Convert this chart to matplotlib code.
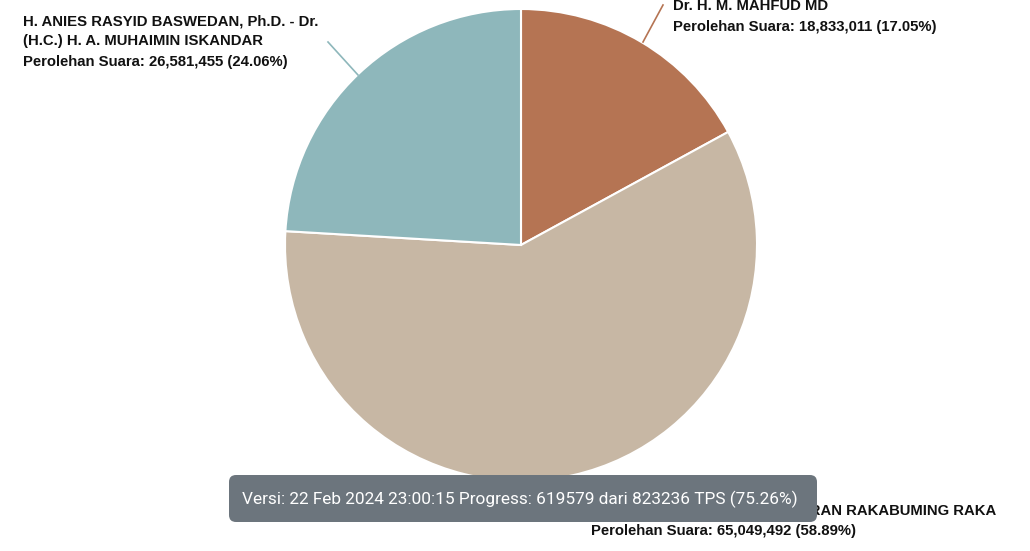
import matplotlib.pyplot as plt
from matplotlib.patches import FancyBboxPatch

candidates = [
    "Dr. H. M. MAHFUD MD",
    "H. PRABOWO SUBIANTO - GIBRAN RAKABUMING RAKA",
    "H. ANIES RASYID BASWEDAN, Ph.D. - Dr.\n(H.C.) H. A. MUHAIMIN ISKANDAR",
]
votes = [18833011, 65049492, 26581455]
percents = [17.05, 58.89, 24.06]
colors = ["#b57453", "#c7b7a4", "#8eb7bb"]
version_text = "Versi: 22 Feb 2024 23:00:15 Progress: 619579 dari 823236 TPS (75.26%)"

W, H = 1030, 551

fig = plt.figure(figsize=(W / 100, H / 100), dpi=100)
ax = fig.add_axes([0, 0, 1, 1])

# pie drawn in pixel coords (y flipped: 0 at bottom)
cx, cy, r = 521, H - 245, 236
ax.pie(votes, colors=colors, startangle=90, counterclock=False,
       center=(cx, cy), radius=r, frame=True,
       wedgeprops=dict(edgecolor="white", linewidth=1.5))
ax.set_xlim(0, W)
ax.set_ylim(0, H)
ax.set_aspect("equal")
ax.axis("off")

def label(i, x, y_top):
    lines = candidates[i].split("\n")
    lines.append(f"Perolehan Suara: {votes[i]:,} ({percents[i]:.2f}%)")
    for k, t in enumerate(lines):
        ax.text(x, H - (y_top + k * 20.5), t, fontsize=10.7, fontweight="bold",
                family="Liberation Sans", color="#111111", va="center", ha="left",
                zorder=2)

# connector lines
ax.plot([328, 358], [H - 42, H - 75], color=colors[2], lw=1.2)
ax.plot([663, 643], [H - 5, H - 42], color=colors[0], lw=1.2)

label(2, 23, 21)
label(0, 673, 6)
label(1, 591, 511)

# version tooltip box
box = FancyBboxPatch((229, H - 522), 588, 47,
                     boxstyle="round,pad=0,rounding_size=7",
                     facecolor="#6c757d", edgecolor="none", zorder=5)
ax.add_patch(box)
ax.text(242, H - 499, version_text, fontsize=12.4, color="white",
        family="Roboto", va="center", ha="left", zorder=6)

fig.savefig("out.png", dpi=100)
